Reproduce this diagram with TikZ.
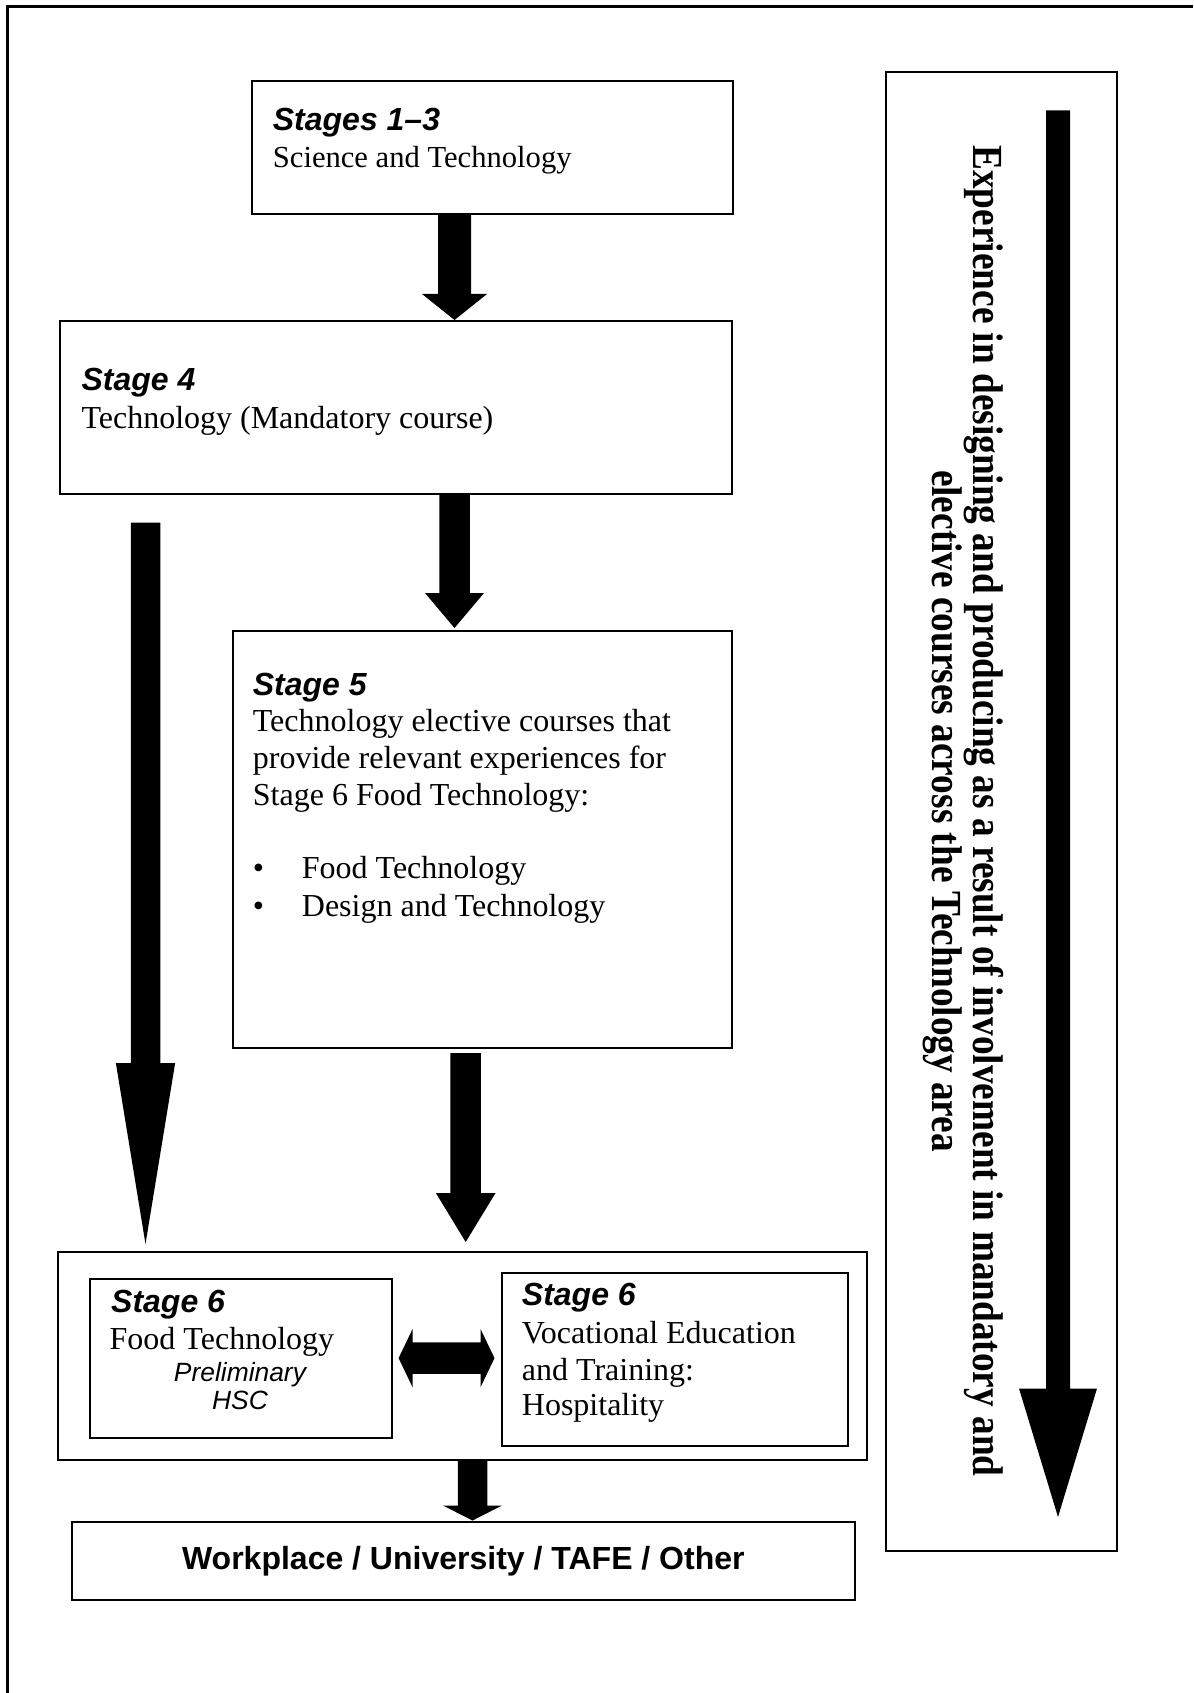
\documentclass[tikz,border=0pt]{standalone}
\usepackage{fontspec}
\setmainfont{Liberation Serif}
\newfontfamily\arial{Liberation Sans}
\usetikzlibrary{calc}
\tikzset{
  box/.style={draw, line width=2pt, rectangle, inner sep=0pt, anchor=north west},
  txt/.style={inner sep=0pt, anchor=base west, font=\fontsize{32}{36.7}\selectfont},
  stg/.style={inner sep=0pt, anchor=base west, font=\arial\bfseries\itshape\fontsize{32}{36.7}\selectfont},
  sml/.style={inner sep=0pt, anchor=base, font=\arial\itshape\fontsize{26.4}{28}\selectfont},
}
% #1 start, #2 tip, #3 half shaft, #4 half head, #5 head length
\newcommand\fatdown[5]{%
  \fill let \p1=(#1), \p2=(#2) in
    (\x1-#3,\y1) -- (\x1+#3,\y1) -- (\x1+#3,\y2+#5) -- (\x1+#4,\y2+#5)
    -- (\x1,\y2) -- (\x1-#4,\y2+#5) -- (\x1-#3,\y2+#5) -- cycle;}
\begin{document}
\begin{tikzpicture}[x=1pt,y=-1pt]
\useasboundingbox (0,0) rectangle (1193,1693);
\draw[line width=3pt] (7,1693) -- (7,7) -- (1193,7);

% boxes
\node[box, minimum width=481pt, minimum height=132.7pt] (s13) at (250.7,80) {};
\node[box, minimum width=672pt, minimum height=172.7pt] (s4) at (59,320) {};
\node[box, minimum width=499pt, minimum height=417pt] (s5) at (232,630) {};
\node[box, minimum width=809pt, minimum height=208pt] (g6) at (57,1251) {};
\node[box, minimum width=301.6pt, minimum height=159.2pt] (s6a) at (89,1277.5) {};
\node[box, minimum width=346pt, minimum height=173.2pt] (s6b) at (500.5,1271.5) {};
\node[box, minimum width=782.7pt, minimum height=78.8pt] (work) at (71,1520.5) {};
\node[box, minimum width=231.5pt, minimum height=1479pt] (side) at (884.5,71) {};

% texts
\node[stg] (t13a) at (272.7,130.7) {Stages 1–3};
\node[txt, font=\fontsize{30.6}{36.7}\selectfont] (t13b) at (272.7,167.7) {Science and Technology};

\node[stg] (t4a) at (81.3,390.7) {Stage 4};
\node[txt] (t4b) at (81.3,428.3) {Technology (Mandatory course)};

\node[stg] (t5a) at (252.7,695) {Stage 5};
\node[txt] (t5b) at (252.7,731.7) {Technology elective courses that};
\node[txt] (t5c) at (252.7,768.3) {provide relevant experiences for};
\node[txt] (t5d) at (252.7,805) {Stage 6 Food Technology:};
\node[txt] (b1) at (252.7,878.3) {•};
\node[txt] (t5e) at (301.7,878.3) {Food Technology};
\node[txt] (b2) at (252.7,916) {•};
\node[txt] (t5f) at (301.7,916) {Design and Technology};

\node[stg] (t6a) at (111,1312.7) {Stage 6};
\node[txt] (t6b) at (109.5,1349.3) {Food Technology};
\node[sml] (t6c) at (240,1381.7) {Preliminary};
\node[sml] (t6d) at (240,1409.3) {HSC};

\node[stg] (t7a) at (521.7,1305) {Stage 6};
\node[txt] (t7b) at (521.7,1343.3) {Vocational Education};
\node[txt] (t7c) at (521.7,1380) {and Training:};
\node[txt] (t7d) at (521.7,1415.7) {Hospitality};

\node[inner sep=0pt, anchor=base, font=\arial\bfseries\fontsize{32}{36}\selectfont] (tw)
  at ($(work.center)+(0,8.5)$) {Workplace / University / TAFE / Other};

\node[inner sep=0pt, rotate=-90, font=\bfseries\fontsize{37.3}{35}\selectfont] (tside)
  at (962,811) {\scalebox{1}[1.15]{\begin{tabular}{@{}c@{}}Experience in designing and producing as a result of involvement in mandatory and\\
  elective courses across the Technology area\end{tabular}}};

% arrow axes
\coordinate (xa) at (454.5,0);
\coordinate (xL) at (145.5,0);
\coordinate (xb) at (465.7,0);
\coordinate (xc) at (472.5,0);
\coordinate (xs) at (1058,0);

\fatdown{s13.south -| xa}{s4.north -| xa}{16.5pt}{32.5pt}{26pt}
\fatdown{s4.south -| xa}{$(s5.north -| xa)+(0,-2)$}{15.25pt}{29.5pt}{35pt}
\fatdown{$(s4.south -| xL)+(0,28)$}{$(g6.north -| xL)+(0,-7)$}{14.75pt}{29.65pt}{181pt}
\fatdown{$(s5.south -| xb)+(0,4)$}{$(g6.north -| xb)+(0,-9)$}{15.25pt}{29.85pt}{49pt}
\fatdown{g6.south -| xc}{work.north -| xc}{14.75pt}{29.5pt}{15pt}
\fatdown{$(side.north -| xs)+(0,39.3)$}{$(side.south -| xs)+(0,-35)$}{12pt}{39pt}{128.5pt}

% double arrow between the two Stage 6 boxes
\fill let \p1=($(s6a.east)+(6,0)$), \p2=($(s6b.west)+(-6,0)$) in
  (\x1,\y1) -- (\x1+14pt,\y1+29.2pt) -- (\x1+14pt,\y1+15.85pt) -- (\x2-14pt,\y1+15.85pt)
  -- (\x2-14pt,\y1+29.2pt) -- (\x2,\y1) -- (\x2-14pt,\y1-29.2pt) -- (\x2-14pt,\y1-15.85pt)
  -- (\x1+14pt,\y1-15.85pt) -- (\x1+14pt,\y1-29.2pt) -- cycle;
\end{tikzpicture}
\end{document}
